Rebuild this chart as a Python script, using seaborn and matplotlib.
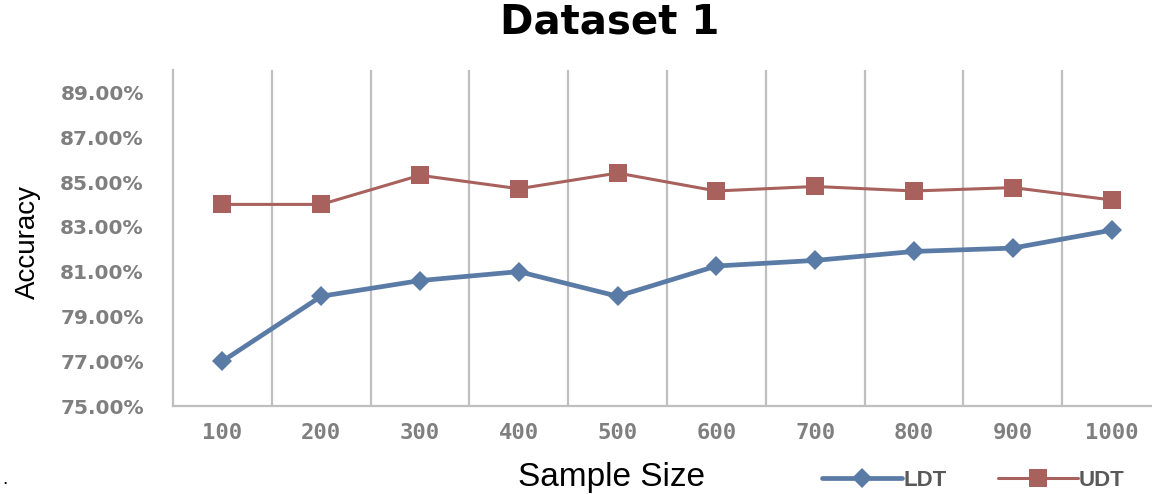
import pandas as pd
import matplotlib
matplotlib.use("Agg")
import matplotlib.pyplot as plt
import seaborn as sns
from matplotlib.ticker import PercentFormatter, FixedLocator

# --- Dados ---
tamanhos = ["100", "200", "300", "400", "500", "600", "700", "800", "900", "1000"]
acc_ldt = [77.0, 79.9, 80.6, 81.0, 79.9, 81.25, 81.5, 81.9, 82.05, 82.85]
acc_udt = [84.0, 84.0, 85.3, 84.7, 85.4, 84.6, 84.8, 84.6, 84.75, 84.2]
ticks_y = [75, 77, 79, 81, 83, 85, 87, 89]

cor_ldt = "#5A7BA6"
cor_udt = "#A8615D"
cinza = "#BFBFBF"
cinza_txt = "#7F7F7F"

pos = list(range(len(tamanhos)))
df = pd.DataFrame({"pos": pos * 2,
                   "acc": acc_ldt + acc_udt,
                   "serie": ["LDT"] * len(pos) + ["UDT"] * len(pos)})

sns.set_theme(style="white")
plt.rcParams["font.family"] = ["Liberation Sans", "DejaVu Sans"]

fig = plt.figure(figsize=(11.52, 4.94), dpi=100)
ax = fig.add_axes([0.1502, 0.1781, 0.8576, 0.6802])

sns.lineplot(data=df[df.serie == "LDT"], x="pos", y="acc", ax=ax, color=cor_ldt,
             marker="D", markersize=10, linewidth=3.4, markeredgewidth=0,
             label="LDT", legend=False)
sns.lineplot(data=df[df.serie == "UDT"], x="pos", y="acc", ax=ax, color=cor_udt,
             marker="s", markersize=12.5, linewidth=2.2, markeredgewidth=0,
             label="UDT", legend=False)

ax.set_xlim(-0.5, len(tamanhos) - 0.5)
ax.set_ylim(75, 90)
ax.set_xticks(pos)
ax.set_xticklabels(tamanhos)
ax.xaxis.set_minor_locator(FixedLocator([p + 0.5 for p in pos[:-1]]))
ax.grid(True, which="minor", axis="x", color=cinza, linewidth=1.6)
ax.grid(False, which="major")
ax.set_yticks(ticks_y)
ax.yaxis.set_major_formatter(PercentFormatter(100, decimals=2))
ax.set_xlabel("")
ax.set_ylabel("")

for lab in ax.get_yticklabels():
    lab.set_family("DejaVu Sans")
    lab.set_fontweight("bold")
    lab.set_fontsize(14.5)
    lab.set_color(cinza_txt)
for lab in ax.get_xticklabels():
    lab.set_family("DejaVu Sans Mono")
    lab.set_fontweight("bold")
    lab.set_fontsize(16)
    lab.set_color(cinza_txt)
ax.tick_params(axis="y", length=0, pad=21)
ax.tick_params(axis="x", which="both", length=0, pad=12)

for s in ["top", "right"]:
    ax.spines[s].set_visible(False)
for s in ["left", "bottom"]:
    ax.spines[s].set_color(cinza)
    ax.spines[s].set_linewidth(1.6)

# títulos e rótulos
fig.text(0.529, 0.955, "Dataset 1", ha="center", va="center",
         fontsize=29, fontweight="bold", family="DejaVu Sans", color="black")
fig.text(0.531, 0.016, "Sample Size", ha="center", va="baseline", fontsize=24, color="black")
fig.text(0.024, 0.51, "Accuracy", ha="center", va="center", rotation=90, fontsize=20, color="black")
fig.text(0.002, 0.02, ".", fontsize=14, color="black")

leg = fig.legend(loc="center", bbox_to_anchor=(0.845, 0.028), ncol=2, frameon=False,
                 fontsize=16, handlelength=3.6, handletextpad=0.05, columnspacing=2.3,
                 borderpad=0)
for t in leg.get_texts():
    t.set_fontweight("bold")
    t.set_color("#595959")

fig.savefig("out.png", dpi=100)
